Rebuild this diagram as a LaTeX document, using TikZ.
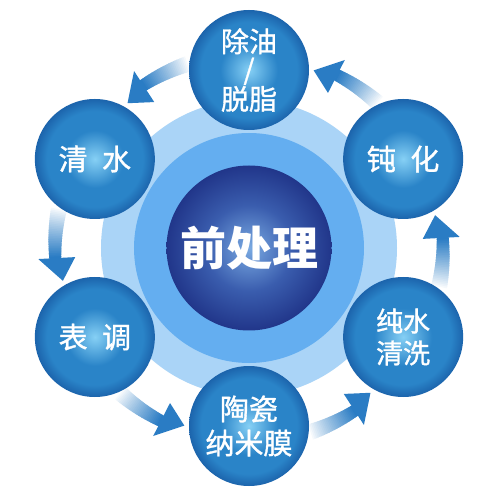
\documentclass[tikz,border=0pt]{standalone}
\usepackage{fontspec}
\newfontfamily\cjk{Noto Sans CJK SC}
\newfontfamily\cjkm[FakeBold=1.2]{Noto Sans CJK SC}
\usetikzlibrary{calc}
\definecolor{satEdge}{HTML}{1C64AC}
\definecolor{satMid}{HTML}{2A84C8}
\definecolor{satHi}{HTML}{86D0F5}
\definecolor{cenEdge}{HTML}{21368A}
\definecolor{cenMid}{HTML}{3A5DAE}
\definecolor{cenHi}{HTML}{7AAAE2}
\definecolor{ringOuter}{HTML}{AAD4F7}
\definecolor{ringMid}{HTML}{64AEF0}
\definecolor{arrowblue}{HTML}{2A7CC4}
\pgfdeclareradialshading{satshade}{\pgfpoint{0bp}{0bp}}{color(0bp)=(satHi); color(12bp)=(satMid); color(20bp)=(satMid); color(25bp)=(satEdge); color(50bp)=(satEdge)}
\pgfdeclareradialshading{censhade}{\pgfpoint{0bp}{0bp}}{color(0bp)=(cenHi); color(13bp)=(cenMid); color(25bp)=(cenEdge); color(50bp)=(cenEdge)}
\tikzset{
  sat/.style={circle, minimum size=120pt, inner sep=0pt, shade, shading=satshade, text=white, align=center},
  censphere/.style={circle, minimum size=165pt, inner sep=0pt, shade, shading=censhade, text=white},
}
\begin{document}
\begin{tikzpicture}[x=1pt,y=1pt]
\useasboundingbox (-249,-252) rectangle (251,248);
\fill[white] (-249,-252) rectangle (251,248);
\coordinate (C) at (0,0);
\fill[ringOuter] (C) circle (148);
\fill[ringMid] (C) circle (115);
\node[censphere, font=\cjk\bfseries\fontsize{46}{46}\selectfont] (center) at (C) {前处理};
% arrows
\foreach \c in {0,60,...,300} {
  \foreach \i in {0,...,29} {
    \pgfmathsetmacro\a{\c-12+\i*0.5}
    \pgfmathsetmacro\b{\a+0.7}
    \pgfmathsetmacro\p{100*(\i/29)^0.9}
    \pgfmathsetmacro\ri{186+2*\i/29}
    \pgfmathsetmacro\ro{202-2*\i/29}
    \fill[arrowblue!\p!white] ($(C)+(\a:\ri)$) -- ($(C)+(\b:\ri)$) -- ($(C)+(\b:\ro)$) -- ($(C)+(\a:\ro)$) -- cycle;
  }
  \fill[arrowblue] ($(C)+(\c+3:174)$) -- ($(C)+(\c+10:189)$) -- ($(C)+(\c+3:211)$) -- cycle;
}
\node[sat, font=\cjkm\fontsize{28}{28}\selectfont] (s1) at ($(C)+(90:178)$) {除油\\/\\脱脂};
\node[sat, font=\cjkm\fontsize{29}{29}\selectfont] (s2) at ($(C)+(150:178)$) {清\hspace{0.5em}水};
\node[sat, font=\cjkm\fontsize{29}{29}\selectfont] (s3) at ($(C)+(210:178)$) {表\hspace{0.5em}调};
\node[sat, font=\cjkm\fontsize{29}{34}\selectfont] (s4) at ($(C)+(270:178)$) {陶瓷\\纳米膜};
\node[sat, font=\cjkm\fontsize{27}{32}\selectfont] (s5) at ($(C)+(330:178)$) {纯水\\清洗};
\node[sat, font=\cjkm\fontsize{29}{29}\selectfont] (s6) at ($(C)+(30:178)$) {钝\hspace{0.5em}化};
\end{tikzpicture}
\end{document}
